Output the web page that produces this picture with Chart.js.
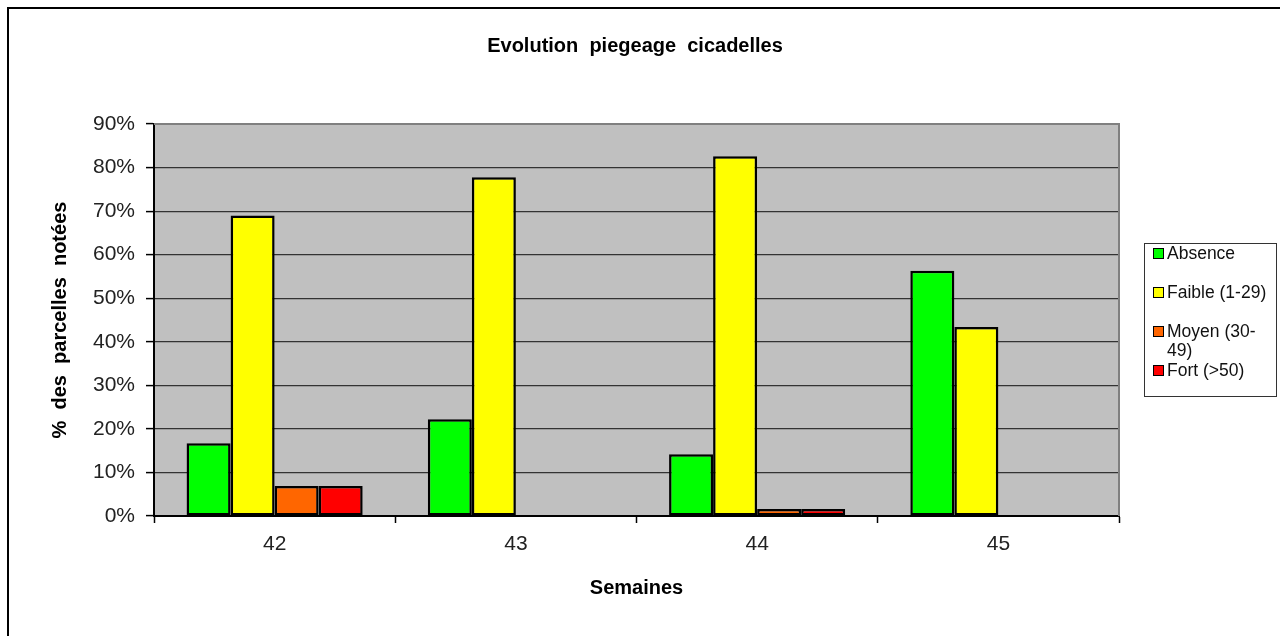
<!DOCTYPE html>
<html>
<head>
<meta charset="utf-8">
<title>Evolution piegeage cicadelles</title>
<script src="https://cdn.jsdelivr.net/npm/chart.js@4.4.1/dist/chart.umd.min.js"></script>
<style>
body { margin: 0; background: #fff; font-family: 'Liberation Sans', Arial, sans-serif; }
#wrap { position: relative; width: 1280px; height: 636px; overflow: hidden; }
#frame { position: absolute; left: 7px; top: 7px; right: -5px; bottom: -5px; border-left: 2px solid #000; border-top: 2px solid #000; pointer-events: none; }
#legend { position: absolute; left: 1144px; top: 243px; width: 133px; height: 154px; border: 1px solid #333; background: #fff; box-sizing: border-box; }
.item { position: relative; height: 39px; font-size: 17.5px; line-height: 19px; color: #111; padding-left: 22px; }
.box { position: absolute; left: 8px; top: 4px; width: 9px; height: 9px; border: 1px solid #000; }
</style>
</head>
<body>
<div id="wrap">
  <canvas id="chart" width="1280" height="636"></canvas>
  <div id="frame"></div>
  <div id="legend"></div>
</div>
<script>
// semaines
const weeks = ['42', '43', '44', '45']

// % des parcelles notees, par classe
const absence = [16.7, 22.2, 14.2, 56.3]
const faible = [69.0, 77.8, 82.6, 43.4]
const moyen = [6.9, 0, 1.6, 0]
const fort = [6.9, 0, 1.6, 0]

const seriesNames = ['Absence', 'Faible (1-29)', 'Moyen (30-49)', 'Fort (>50)']
const seriesColors = ['#00ff00', '#ffff00', '#ff6600', '#ff0000']
const yTicks = [0, 10, 20, 30, 40, 50, 60, 70, 80, 90]

const fontFamily = "'Liberation Sans', Arial, sans-serif"

const makeSet = (i, values) => ({
    label: seriesNames[i],
    data: values,
    backgroundColor: seriesColors[i],
    borderColor: '#000',
    borderWidth: 2.5,
    borderSkipped: false,
    barPercentage: 1,
    categoryPercentage: 0.73
})

// fond gris de la zone de trace + bord gris haut/droite
const plotArea = {
    id: 'plotArea',
    beforeDraw(chart) {
        const {ctx, chartArea: a} = chart
        ctx.save()
        ctx.fillStyle = '#c0c0c0'
        ctx.fillRect(a.left, a.top, a.right - a.left, a.bottom - a.top)
        ctx.restore()
    },
    beforeDatasetsDraw(chart) {
        const {ctx, chartArea: a} = chart
        ctx.save()
        ctx.strokeStyle = '#808080'
        ctx.lineWidth = 2
        ctx.beginPath()
        ctx.moveTo(a.left, a.top)
        ctx.lineTo(a.right, a.top)
        ctx.lineTo(a.right, a.bottom)
        ctx.stroke()
        ctx.restore()
    }
}

const config = {
    type: 'bar',
    data: {
        labels: weeks,
        datasets: [makeSet(0, absence), makeSet(1, faible), makeSet(2, moyen), makeSet(3, fort)]
    },
    options: {
        responsive: false,
        animation: false,
        layout: { padding: { left: 0, right: 10, top: 0, bottom: 0 } },
        plugins: {
            legend: { display: false },
            tooltip: { enabled: false },
            title: {
                display: true,
                text: 'Evolution  piegeage  cicadelles',
                color: '#000',
                font: { family: fontFamily, size: 20, weight: 'bold' },
                padding: { top: 34, bottom: 66 }
            }
        },
        scales: {
            x: {
                grid: { display: true, drawOnChartArea: false, drawTicks: true, tickLength: 7, tickColor: '#000', tickWidth: 1.5 },
                border: { color: '#000', width: 2 },
                ticks: { color: '#222', padding: 9, font: { family: fontFamily, size: 21 } },
                title: {
                    display: true,
                    text: 'Semaines',
                    color: '#000',
                    font: { family: fontFamily, size: 20, weight: 'bold' },
                    padding: { top: 0, bottom: 36 }
                },
                afterFit: s => { s.height = 120 }
            },
            y: {
                min: 0,
                max: 90,
                afterBuildTicks: s => { s.ticks = yTicks.map(v => ({value: v})) },
                grid: { color: '#333', lineWidth: 1.2, tickLength: 8, tickColor: '#000', tickWidth: 1.5 },
                border: { color: '#000', width: 2 },
                ticks: {
                    color: '#222',
                    padding: 11,
                    font: { family: fontFamily, size: 21 },
                    callback: v => v + '%'
                },
                title: {
                    display: true,
                    text: '%  des  parcelles  notées',
                    color: '#000',
                    font: { family: fontFamily, size: 20, weight: 'bold' },
                    padding: { top: 48, bottom: 0 }
                },
                afterFit: s => { s.width = 154 }
            },
            // axe vide a droite : reserve la place de la legende
            yRight: {
                position: 'right',
                display: true,
                grid: { display: false },
                border: { display: false },
                ticks: { display: false },
                afterFit: s => { s.width = 151 }
            }
        }
    },
    plugins: [plotArea]
}

const myChart = new Chart(document.getElementById('chart'), config)

// legende HTML (retour a la ligne comme dans l'original)
const legendBox = document.getElementById('legend')
myChart.data.datasets.forEach(ds => {
    const text = ds.label === 'Moyen (30-49)' ? 'Moyen (30-<br>49)' : ds.label
    legendBox.innerHTML += `
        <div class="item">
            <span class="box" style="background:${ds.backgroundColor}"></span>${text}
        </div>
    `
})
</script>
</body>
</html>
